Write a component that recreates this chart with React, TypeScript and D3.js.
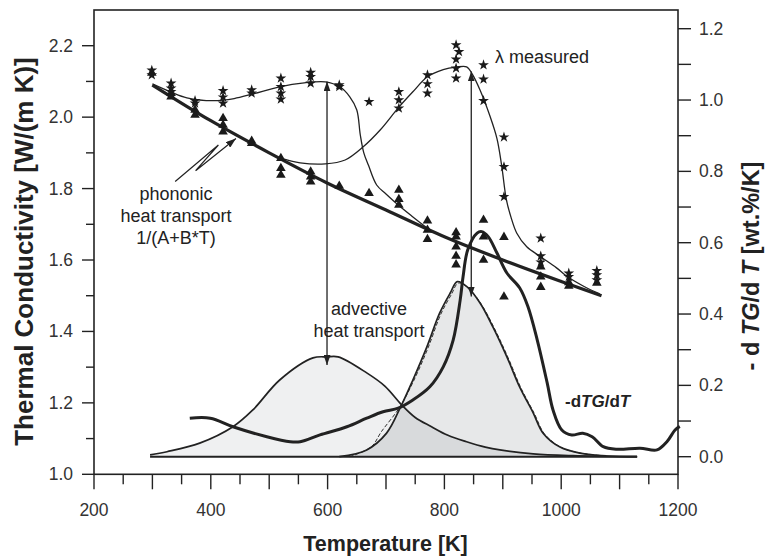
import React from 'react';
import * as d3 from 'd3';

// ---------- data ----------
// phononic heat transport 1/(A+B*T)  (left axis)
const phononT = [300, 400, 500, 600, 700, 800, 900, 1000, 1069];
const phononL = [2.09, 1.99, 1.9, 1.815, 1.74, 1.665, 1.6, 1.54, 1.5];

// measured lambda curve, first heating (left axis)
const lam1T = [300, 332, 359, 404, 440, 472, 518, 560, 596, 621, 638, 650, 656, 662, 670, 684, 700, 721, 745, 770];
const lam1L = [2.093, 2.07, 2.054, 2.046, 2.052, 2.065, 2.085, 2.096, 2.099, 2.085, 2.057, 2.02, 1.95, 1.9, 1.865, 1.81, 1.785, 1.754, 1.722, 1.69];

// measured lambda curve, second peak (left axis)
const lam2T = [518, 553, 596, 630, 661, 690, 721, 746, 771, 798, 820, 838, 848, 861, 878, 890, 898, 906, 914, 924, 941, 964, 992, 1009, 1040, 1066];
const lam2L = [1.886, 1.872, 1.869, 1.88, 1.917, 1.964, 2.026, 2.071, 2.113, 2.133, 2.14, 2.141, 2.12, 2.076, 2.003, 1.94, 1.865, 1.77, 1.72, 1.675, 1.637, 1.61, 1.578, 1.555, 1.525, 1.505];

// -dTG/dT (right axis)
const dtgT = [364, 399, 438, 496, 536, 553, 587, 633, 667, 695, 721, 746, 775, 798, 815, 827, 832, 840, 856, 864, 875, 890, 907, 929, 943, 959, 976, 986, 1001, 1018, 1037, 1053, 1072, 1096, 1135, 1164, 1181, 1195, 1203];
const dtgR = [0.108, 0.108, 0.084, 0.056, 0.042, 0.042, 0.061, 0.084, 0.108, 0.126, 0.136, 0.159, 0.196, 0.252, 0.327, 0.439, 0.505, 0.58, 0.627, 0.631, 0.617, 0.571, 0.515, 0.473, 0.421, 0.327, 0.207, 0.131, 0.075, 0.061, 0.066, 0.056, 0.028, 0.021, 0.024, 0.019, 0.042, 0.075, 0.085];

// advective peak (right axis)
const peakAT = [296, 325, 381, 438, 472, 518, 575, 599, 618, 667, 698, 727, 750, 778, 806, 838, 870, 895, 952, 1020, 1130];
const peakAR = [0.005, 0.014, 0.038, 0.084, 0.131, 0.215, 0.277, 0.28, 0.28, 0.235, 0.198, 0.145, 0.11, 0.084, 0.06, 0.042, 0.027, 0.019, 0.008, 0.003, 0];

// second peak (right axis)
const peakBT = [620, 667, 701, 724, 746, 770, 792, 810, 822, 839, 861, 883, 907, 929, 952, 969, 998, 1032, 1078, 1130];
const peakBR = [0, 0.019, 0.066, 0.136, 0.215, 0.308, 0.403, 0.459, 0.491, 0.476, 0.431, 0.364, 0.28, 0.195, 0.123, 0.066, 0.027, 0.01, 0.002, 0];

// fitted second peak (dashed)
const fitBT = [638, 675, 692, 724, 748, 772, 794, 812, 824, 841, 863, 885, 909, 931, 954, 971, 1000, 1034, 1080];
const fitBR = [0, 0.028, 0.07, 0.14, 0.215, 0.305, 0.4, 0.455, 0.487, 0.473, 0.428, 0.362, 0.278, 0.193, 0.121, 0.065, 0.026, 0.01, 0.002];

// measured lambda points (stars) [T, lambda]
const starPts: [number, number][] = [
  [299, 2.131], [299, 2.118],
  [332, 2.095], [332, 2.081], [332, 2.071],
  [373, 2.046], [373, 2.039],
  [421, 2.074], [421, 2.056], [421, 2.039],
  [470, 2.076], [470, 2.067],
  [520, 2.109], [520, 2.085], [520, 2.067], [520, 2.05],
  [571, 2.125], [571, 2.113], [571, 2.095],
  [620, 2.09], [620, 2.085],
  [671, 2.043],
  [722, 2.071], [722, 2.048], [722, 2.025],
  [771, 2.118], [771, 2.093], [771, 2.067],
  [820, 2.202], [825, 2.183], [820, 2.162], [820, 2.137], [820, 2.109],
  [867, 2.146], [867, 2.106], [867, 2.046],
  [902, 1.944], [902, 1.861], [902, 1.777],
  [965, 1.661], [965, 1.611], [965, 1.594],
  [1013, 1.563], [1013, 1.553],
  [1061, 1.57], [1061, 1.558], [1061, 1.544],
];

// phononic points (triangles) [T, lambda]
const triPts: [number, number][] = [
  [299, 2.124],
  [332, 2.067], [332, 2.057],
  [373, 2.02], [373, 2.006],
  [421, 1.997], [421, 1.978], [421, 1.959],
  [470, 1.933], [470, 1.927],
  [520, 1.885], [520, 1.857], [520, 1.838],
  [571, 1.847], [571, 1.833], [571, 1.819],
  [620, 1.807],
  [671, 1.787],
  [722, 1.796], [722, 1.77], [722, 1.754],
  [771, 1.71], [771, 1.684], [771, 1.658],
  [820, 1.677], [820, 1.665], [820, 1.637], [820, 1.611], [820, 1.587],
  [867, 1.712], [867, 1.665], [867, 1.6],
  [902, 1.664], [902, 1.497],
  [965, 1.581], [965, 1.553], [965, 1.524],
  [1013, 1.537], [1013, 1.527],
  [1061, 1.536],
];

// vertical double arrows: T, top (left axis value), bottom (right axis value)
const arrowT = [599, 846];
const arrowTopL = [2.1, 2.128];
const arrowBottomR = [0.257, 0.449];

// zig-zag arrow to the phononic line [T, lambda]
const phonArrow: [number, number][] = [[339, 1.82], [413, 1.922], [374, 1.85], [443, 1.94]];

// axis ticks
const xMajor = [200, 300, 400, 500, 600, 700, 800, 900, 1000, 1100, 1200];
const xMinor = [250, 350, 450, 550, 650, 750, 850, 950, 1050, 1150];
const xLabels = [200, 400, 600, 800, 1000, 1200];
const yLMajor = [1.0, 1.2, 1.4, 1.6, 1.8, 2.0, 2.2];
const yLMinor = [1.1, 1.3, 1.5, 1.7, 1.9, 2.1];
const yRMajor = [0, 0.2, 0.4, 0.6, 0.8, 1.0, 1.2];
const yRMinor = [0.1, 0.3, 0.5, 0.7, 0.9, 1.1];

const FONT = '"Liberation Sans", Arial, Helvetica, sans-serif';
const INK = '#222';

export default function App() {
  const x = d3.scaleLinear().domain([200, 1200]).range([94, 678]);
  const yL = d3.scaleLinear().domain([1.0, 2.3]).range([474.3, 10]);
  const yR = d3.scaleLinear().domain([0, 1.2]).range([456.7, 28.7]);

  const lineOf = (T: number[], V: number[], y: d3.ScaleLinear<number, number>, curve: any = d3.curveCatmullRom.alpha(0.5)) =>
    d3.line<number>().x((_, i) => x(T[i])).y((_, i) => y(V[i])).curve(curve)(T) || '';
  const areaOf = (T: number[], V: number[]) =>
    d3.area<number>().x((_, i) => x(T[i])).y0(yR(0)).y1((_, i) => yR(V[i])).curve(d3.curveCatmullRom.alpha(0.5))(T) || '';

  const starPath = d3.symbol().type(d3.symbolStar).size(36)() || '';
  const triPath = d3.symbol().type(d3.symbolTriangle).size(40)() || '';

  const x0 = x(200), x1 = x(1200), yTop = yL(2.3), yBot = yL(1.0);

  const fmt1 = d3.format('.1f');

  return (
    <svg width={765} height={557} style={{ position: 'absolute', left: 0, top: 0, background: '#fff' }} fontFamily={FONT}>
      <defs>
        <marker id="ah" viewBox="0 0 10 7" refX="10" refY="3.5" markerWidth="10" markerHeight="7" markerUnits="userSpaceOnUse" orient="auto-start-reverse">
          <path d="M0,0 L10,3.5 L0,7 z" fill={INK} />
        </marker>
      </defs>
      <rect x={0} y={0} width={765} height={557} fill="#fff" />

      {/* peaks */}
      <path d={areaOf(peakAT, peakAR)} fill="rgb(20,30,40)" fillOpacity={0.065} />
      <path d={areaOf(peakBT, peakBR)} fill="rgb(20,30,40)" fillOpacity={0.1} />
      <path d={lineOf(fitBT, fitBR, yR)} fill="none" stroke="#333" strokeWidth={1} strokeDasharray="4 2" />
      <path d={lineOf(peakAT, peakAR, yR)} fill="none" stroke={INK} strokeWidth={1.7} />
      <path d={lineOf(peakBT, peakBR, yR)} fill="none" stroke={INK} strokeWidth={1.7} />
      <line x1={x(peakAT[0])} x2={x(peakBT[peakBT.length - 1])} y1={yR(0)} y2={yR(0)} stroke={INK} strokeWidth={2} />

      {/* dTG curve */}
      <path d={lineOf(dtgT, dtgR, yR)} fill="none" stroke={INK} strokeWidth={3} strokeLinejoin="round" />

      {/* lambda curves */}
      <path d={lineOf(phononT, phononL, yL, d3.curveMonotoneX)} fill="none" stroke={INK} strokeWidth={3.2} />
      <path d={lineOf(lam1T, lam1L, yL)} fill="none" stroke={INK} strokeWidth={1.3} />
      <path d={lineOf(lam2T, lam2L, yL)} fill="none" stroke={INK} strokeWidth={1.3} />

      {/* markers */}
      {triPts.map(([t, v], i) => (
        <path key={'t' + i} d={triPath} transform={`translate(${x(t)},${yL(v)})`} fill="#1a1a1a" />
      ))}
      {starPts.map(([t, v], i) => (
        <path key={'s' + i} d={starPath} transform={`translate(${x(t)},${yL(v)})`} fill="#1a1a1a" />
      ))}

      {/* vertical arrows */}
      {arrowT.map((t, i) => (
        <line key={'a' + i} x1={x(t)} x2={x(t)} y1={yL(arrowTopL[i])} y2={yR(arrowBottomR[i])} stroke={INK} strokeWidth={1.3}
          markerStart="url(#ah)" markerEnd="url(#ah)" />
      ))}

      {/* phononic zigzag arrow */}
      <polyline points={phonArrow.map(([t, v]) => `${x(t)},${yL(v)}`).join(' ')} fill="none" stroke={INK} strokeWidth={1.2} markerEnd="url(#ah)" />

      {/* annotations */}
      <g fontSize={18} fill={INK}>
        <text x={176} y={200} textAnchor="middle">phononic</text>
        <text x={176} y={222} textAnchor="middle">heat transport</text>
        <text x={176} y={244} textAnchor="middle">1/(A+B*T)</text>
        <text x={369} y={315} textAnchor="middle">advective</text>
        <text x={369} y={337} textAnchor="middle">heat transport</text>
        <text x={495} y={63}>λ measured</text>
      </g>
      <text x={565} y={407} fontSize={17} fontWeight="bold" fill={INK}>
        -d<tspan fontStyle="italic">TG</tspan>/d<tspan fontStyle="italic">T</tspan>
      </text>

      {/* frame */}
      <rect x={x0} y={yTop} width={x1 - x0} height={yBot - yTop} fill="none" stroke={INK} strokeWidth={1.6} />

      {/* x ticks */}
      {xMajor.map((t) => <line key={'xm' + t} x1={x(t)} x2={x(t)} y1={yBot} y2={yBot + 15} stroke={INK} strokeWidth={1.4} />)}
      {xMinor.map((t) => <line key={'xn' + t} x1={x(t)} x2={x(t)} y1={yBot} y2={yBot + 10} stroke={INK} strokeWidth={1.4} />)}
      {xLabels.map((t) => <text key={'xl' + t} x={x(t)} y={516} textAnchor="middle" fontSize={17.5} fill="#333">{t}</text>)}

      {/* left ticks */}
      {yLMajor.map((v) => <line key={'lm' + v} x1={x0 - 12} x2={x0} y1={yL(v)} y2={yL(v)} stroke={INK} strokeWidth={1.4} />)}
      {yLMinor.map((v) => <line key={'ln' + v} x1={x0 - 8} x2={x0} y1={yL(v)} y2={yL(v)} stroke={INK} strokeWidth={1.4} />)}
      {yLMajor.map((v) => <text key={'ll' + v} x={73} y={yL(v) + 6} textAnchor="end" fontSize={17.5} fill="#333">{fmt1(v)}</text>)}

      {/* right ticks */}
      {yRMajor.map((v) => <line key={'rm' + v} x1={x1} x2={x1 + 13} y1={yR(v)} y2={yR(v)} stroke={INK} strokeWidth={1.4} />)}
      {yRMinor.map((v) => <line key={'rn' + v} x1={x1} x2={x1 + 13} y1={yR(v)} y2={yR(v)} stroke={INK} strokeWidth={1.4} />)}
      {yRMajor.map((v) => <text key={'rl' + v} x={699} y={yR(v) + 6} textAnchor="start" fontSize={17.5} fill="#333">{fmt1(v)}</text>)}

      {/* axis titles */}
      <text x={385.5} y={551} textAnchor="middle" fontSize={21.5} fontWeight="bold" fill={INK}>Temperature [K]</text>
      <text transform="translate(33,251.5) rotate(-90)" textAnchor="middle" fontSize={26} fontWeight="bold" fill={INK}>
        Thermal Conductivity [W/(m K)]
      </text>
      <text transform="translate(759,266) rotate(-90)" textAnchor="middle" fontSize={23.5} fontWeight="bold" fill={INK}>
        - d<tspan fontStyle="italic"> TG</tspan>/d<tspan fontStyle="italic"> T</tspan> [wt.%/K]
      </text>
    </svg>
  );
}
